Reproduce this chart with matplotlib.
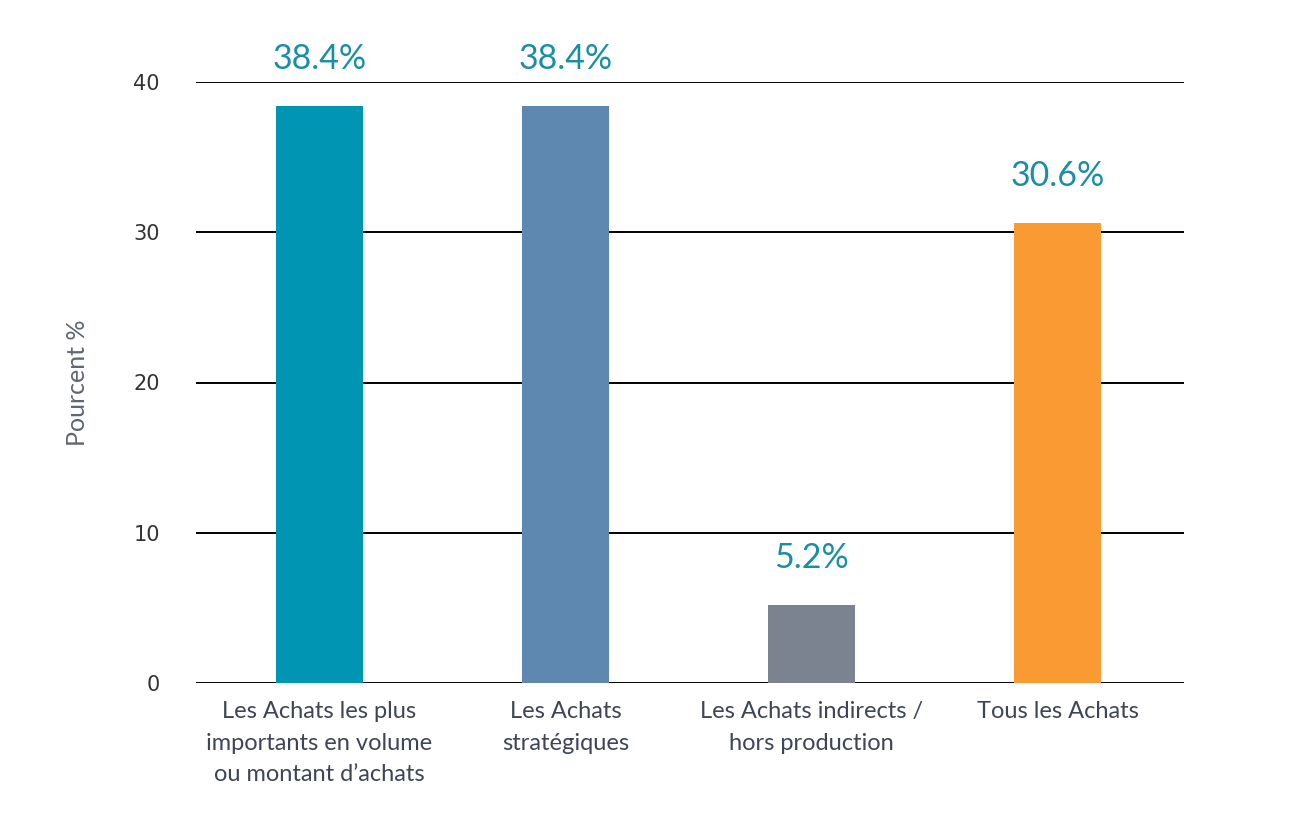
import matplotlib
matplotlib.use("Agg")
import matplotlib.pyplot as plt

categories = ["Les Achats les plus\nimportants en volume\nou montant d\u2019achats",
              "Les Achats\nstrat\u00e9giques",
              "Les Achats indirects /\nhors production",
              "Tous les Achats"]
values = [38.4, 38.4, 5.2, 30.6]
labels = ["38.4%", "38.4%", "5.2%", "30.6%"]
colors = ["#0095B3", "#5F88B0", "#7B8391", "#F99A33"]
yticks = [0, 10, 20, 30, 40]

fig = plt.figure(figsize=(13.16, 8.19), dpi=100)
ax = fig.add_axes([196/1316, 1-683/819, (1184-196)/1316, (683-82)/819])

x = list(range(len(categories)))
ax.bar(x, values, width=0.35, color=colors, zorder=3)
for xi, v, lab in zip(x, values, labels):
    ax.text(xi, v + 3.15, lab, ha="center", va="center", fontsize=24.5,
            family="Lato", color="#1A8FA3", clip_on=False)

ax.set_xlim(-0.502, 3.514)
ax.set_ylim(0, 40)
ax.set_yticks(yticks)
ax.set_yticklabels([str(t) for t in yticks], fontsize=15, color="#333333",
                   family="DejaVu Sans", va="center_baseline")
ax.set_xticks(x)
ax.set_xticklabels(categories, fontsize=17, family="Lato", color="#3D4556",
                   linespacing=1.62)
ax.tick_params(axis="both", length=0)
ax.tick_params(axis="y", pad=26)
ax.tick_params(axis="x", pad=13)
ax.yaxis.grid(True, color="black", linewidth=1.4, zorder=0)
ax.set_axisbelow(True)
for s in ax.spines.values():
    s.set_visible(False)
ax.set_ylabel("Pourcent %", fontsize=18, family="Lato", color="#5F6670", labelpad=32)

fig.savefig("out.png", dpi=100, facecolor="white")
